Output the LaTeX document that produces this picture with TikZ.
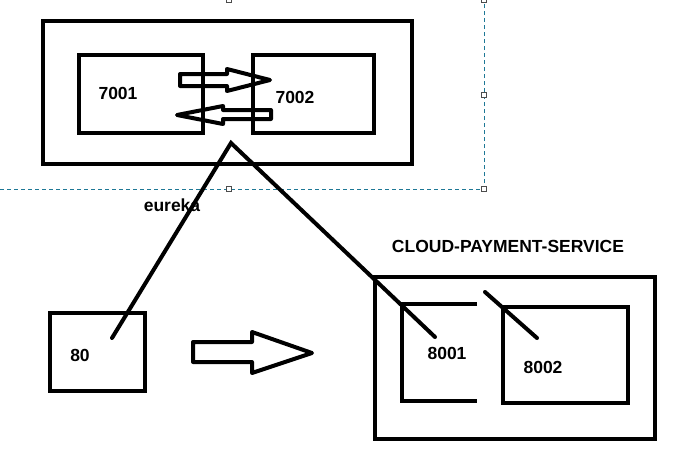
\documentclass[tikz,border=0pt]{standalone}
\usepackage{fontspec}
\setmainfont{Liberation Sans}
\usetikzlibrary{positioning,calc}
\definecolor{guide}{RGB}{30,120,150}

\begin{document}
\begin{tikzpicture}[x=1pt, y=-1pt, line width=4pt,
box node/.style={rectangle,draw,line width=4.5pt,inner sep=0pt},
label node/.style={inner sep=0pt,font=\bfseries\fontsize{17.5}{20}\selectfont},
guide line/.style={draw=guide,line width=1pt,dash pattern=on 4pt off 3pt},
handle/.style={rectangle,draw=black!70,fill=white,line width=0.6pt,minimum size=5pt,inner sep=0pt}]
\useasboundingbox (0,0) rectangle (698,466);
% selection frame of the screenshot
\begin{scope}
\draw[guide line] (0,189) -- (484,189) -- (484,0);
\node[handle] (h1) at (229,0) {};
\node[handle] (h2) at (229,189) {};
\node[handle] (h3) at (484,95) {};
\node[handle] (h4) at (484,189) {};
\node[handle] (h5) at (484,0) {};
\end{scope}
% eureka cluster
\node[box node,minimum width=369pt,minimum height=143pt] (eureka) at (227.5,92.5) {};
\node[box node,minimum width=124pt,minimum height=78pt] (v7001) at (141,94) {};
\node[box node,minimum width=121pt,minimum height=78pt] (v7002) at (313.5,94) {};
\node[label node] (t7001) at (118,93) {7001};
\node[label node] (t7002) at (295,97) {7002};
\node[label node] (teureka) at (172,205) {eureka};
\draw[line join=round] (180,74) -- (227,74) -- (227,69) -- (270,80) -- (227,91) -- (227,86) -- (180,86) -- cycle;
\draw[line join=round] (271,110) -- (223,110) -- (223,106) -- (177,115) -- (223,124) -- (223,119) -- (271,119) -- cycle;
% consumer
\node[box node,minimum width=95pt,minimum height=78pt] (v80) at (97.5,352) {};
\node[label node] (t80) at (80,355) {80};
\draw[line join=round] (193,342) -- (252,342) -- (252,332) -- (312,353) -- (252,373) -- (252,362) -- (193,362) -- cycle;
% payment cluster
\node[label node] (tpay) at (508,246) {CLOUD-PAYMENT-SERVICE};
\node[box node,minimum width=280pt,minimum height=162pt] (pay) at (515,358) {};
\draw[line width=4.5pt] (477,304) -- (402,304) -- (402,401) -- (477,401);
\node[box node,minimum width=125pt,minimum height=96pt] (v8002) at (565.5,355) {};
\node[label node] (t8001) at (447,353) {8001};
\node[label node] (t8002) at (543,367) {8002};
% registrations
\coordinate (apex) at (231,143);
\coordinate (c80) at (112,338);
\coordinate (c8001) at (435,337);
\coordinate (s8002) at (485,292);
\coordinate (c8002) at (537,338);
\draw[line cap=round] (c80) -- (apex) -- (c8001);
\draw[line cap=round] (s8002) -- (c8002);
\end{tikzpicture}
\end{document}
